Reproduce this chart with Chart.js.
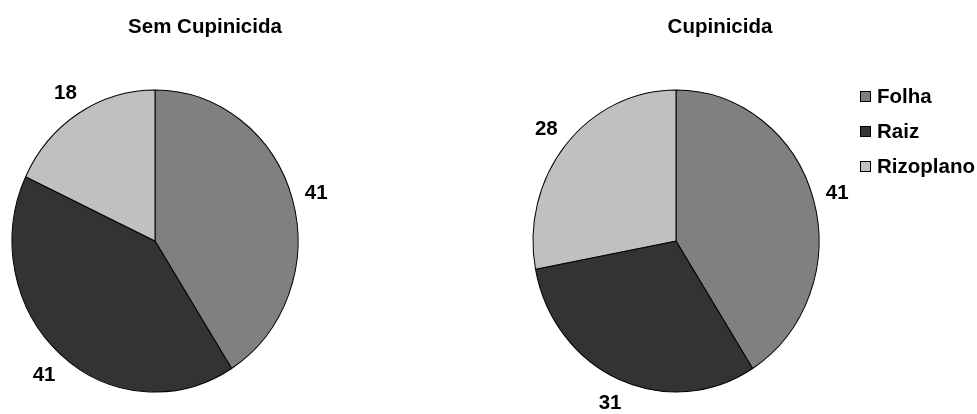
<!DOCTYPE html>
<html>
<head>
<meta charset="utf-8">
<script src="https://cdn.jsdelivr.net/npm/chart.js@4"></script>
<style>
  html, body { margin: 0; padding: 0; background: #ffffff; }
  #wrap { position: relative; width: 977px; height: 414px; overflow: hidden; }
  #wrap canvas { position: absolute; left: 0; top: 0; }
</style>
</head>
<body>
<div id="wrap">
  <canvas id="c1" width="977" height="414"></canvas>
  <canvas id="c2" width="977" height="414"></canvas>
</div>
<script>
// ---- data ----
const categories = ['Folha', 'Raiz', 'Rizoplano'];
const semCupinicida = [41, 41, 18];
const cupinicida = [41, 31, 28];
const chartTitles = ['Sem Cupinicida', 'Cupinicida'];

// ---- styles ----
const sliceColors = ['#808080', '#333333', '#c0c0c0'];
const FONT = 'bold 20.5px "Liberation Sans", Arial, sans-serif';
const STRETCH_Y = 1.056;   // pies in the reference are slightly taller than wide
const PIE_CY = 241;

const ellipsePlugin = {
  id: 'ellipse',
  beforeDatasetsDraw(chart) {
    const ctx = chart.ctx;
    ctx.save();
    ctx.translate(0, PIE_CY);
    ctx.scale(1, STRETCH_Y);
    ctx.translate(0, -PIE_CY);
  },
  afterDatasetsDraw(chart) {
    chart.ctx.restore();
  }
};

function makeDecorPlugin(titleText, titleX, showLegend) {
  return {
    id: 'decor',
    afterDraw(chart) {
      const ctx = chart.ctx;
      ctx.save();
      ctx.fillStyle = '#000';
      ctx.font = FONT;
      // title
      ctx.textAlign = 'center';
      ctx.textBaseline = 'alphabetic';
      ctx.fillText(titleText, titleX, 33);
      // value labels (outside end)
      const meta = chart.getDatasetMeta(0);
      const values = chart.data.datasets[0].data;
      meta.data.forEach((arc, i) => {
        const mid = (arc.startAngle + arc.endAngle) / 2;
        const c = Math.cos(mid), s = Math.sin(mid);
        const txt = String(values[i]);
        const hw = ctx.measureText(txt).width / 2;
        const hh = 7;
        const off = hw * Math.abs(c) + hh * Math.abs(s) + 12;
        const r = arc.outerRadius + off;
        const lx = arc.x + c * r;
        const ly = arc.y + s * r * STRETCH_Y;
        ctx.textAlign = 'center';
        ctx.fillText(txt, lx, ly + 7);
      });
      // legend
      if (showLegend) {
        const labels = chart.data.labels;
        const colors = chart.data.datasets[0].backgroundColor;
        labels.forEach((lab, i) => {
          const base = 103 + i * 35;
          ctx.fillStyle = colors[i];
          ctx.fillRect(860.5, base - 11.5, 10, 10);
          ctx.strokeStyle = '#000';
          ctx.lineWidth = 1;
          ctx.strokeRect(860.5, base - 11.5, 10, 10);
          ctx.fillStyle = '#000';
          ctx.textAlign = 'left';
          ctx.fillText(lab, 877, base);
        });
      }
      ctx.restore();
    }
  };
}

function makePie(canvasId, values, titleText, titleX, pad, showLegend) {
  return new Chart(document.getElementById(canvasId), {
    type: 'pie',
    data: {
      labels: categories,
      datasets: [{
        data: values,
        backgroundColor: sliceColors,
        borderColor: '#000000',
        borderWidth: 1,
        hoverOffset: 0,
        radius: 143
      }]
    },
    options: {
      responsive: false,
      animation: false,
      events: [],
      layout: { padding: pad },
      plugins: {
        legend: { display: false },
        tooltip: { enabled: false },
        title: { display: false }
      }
    },
    plugins: [ellipsePlugin, makeDecorPlugin(titleText, titleX, showLegend)]
  });
}

makePie('c1', semCupinicida, chartTitles[0], 205,
  { left: 5, right: 672, top: 91, bottom: 23 }, false);
makePie('c2', cupinicida, chartTitles[1], 720,
  { left: 526, right: 151, top: 91, bottom: 23 }, true);
</script>
</body>
</html>
